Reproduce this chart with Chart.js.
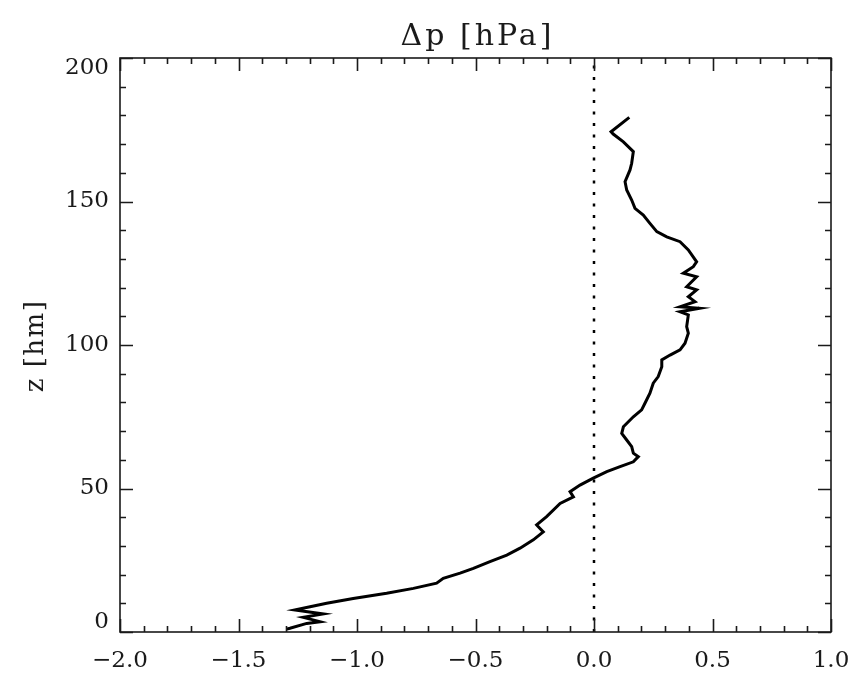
<!DOCTYPE html>
<html>
<head>
<meta charset="utf-8">
<script src="https://cdn.jsdelivr.net/npm/chart.js@4"></script>
<style>
  html, body { margin: 0; padding: 0; background: #fff; }
  #wrap { width: 859px; height: 684px; }
</style>
</head>
<body>
<div id="wrap"><canvas id="profileChart" width="859" height="684"></canvas></div>
<script>
// profile, top of the sounding first
const dp = [0.149, 0.072, 0.081, 0.124, 0.166, 0.159, 0.152, 0.131, 0.138, 0.159,
    0.173, 0.208, 0.236, 0.265, 0.307, 0.363, 0.398, 0.433, 0.419, 0.377,
    0.433, 0.391, 0.433, 0.398, 0.426, 0.363, 0.444, 0.363, 0.398, 0.391,
    0.398, 0.384, 0.363, 0.321, 0.286, 0.286, 0.271, 0.250, 0.236, 0.215,
    0.201, 0.166, 0.124, 0.117, 0.138, 0.159, 0.166, 0.187, 0.166, 0.110,
    0.054, -0.003, -0.059, -0.101, -0.087, -0.143, -0.200, -0.242, -0.214, -0.256,
    -0.312, -0.368, -0.439, -0.509, -0.565, -0.636, -0.664, -0.762, -0.875, -1.016,
    -1.128, -1.198, -1.262, -1.142, -1.227, -1.156, -1.212, -1.283, -1.297];
const z = [179.3, 174.3, 173.5, 170.8, 167.4, 163.3, 161.0, 156.9, 154.0, 150.5,
    147.6, 145.3, 142.4, 139.5, 137.7, 136.0, 133.1, 129.0, 127.3, 125.0,
    123.8, 120.3, 119.2, 116.8, 115.1, 113.3, 112.8, 111.6, 110.5, 106.4,
    104.1, 100.6, 98.3, 96.5, 94.8, 92.4, 89.0, 86.7, 83.2, 79.7,
    77.4, 75.0, 71.5, 69.2, 66.9, 64.6, 62.3, 61.1, 59.3, 57.6,
    55.9, 53.6, 51.2, 48.9, 47.1, 44.8, 40.2, 37.3, 34.9, 32.1,
    29.2, 26.8, 24.5, 22.2, 20.5, 18.7, 17.0, 15.2, 13.5, 11.7,
    10.0, 8.8, 7.7, 6.3, 5.1, 3.6, 3.0, 1.3, 1.0];

const xTicks = [-2.0, -1.5, -1.0, -0.5, 0.0, 0.5, 1.0];
const xTickLabels = ['\u22122.0', '\u22121.5', '\u22121.0', '\u22120.5', '0.0', '0.5', '1.0'];
const yTicks = [0, 50, 100, 150, 200];
const yTickLabels = ['0', '50', '100', '150', '200'];
const xMinorStep = 0.1;
const yMinorStep = 10;

const titleText = '\u0394p [hPa]';
const yTitleText = 'z [hm]';

const FONT = '23px "DejaVu Serif"';
const INK = '#1a1a1a';

// IDL style box: frame, inward ticks on all four sides, labels
const idlAxes = {
    id: 'idlAxes',
    afterDraw(chart) {
        const { ctx, chartArea: a, scales } = chart;
        const xs = scales.x, ys = scales.y;
        ctx.save();
        ctx.strokeStyle = INK;
        ctx.lineWidth = 1.6;
        ctx.strokeRect(a.left, a.top, a.right - a.left, a.bottom - a.top);

        ctx.beginPath();
        // x ticks
        for (let v = xs.min; v <= xs.max + 1e-9; v += xMinorStep) {
            const px = Math.round(xs.getPixelForValue(v)) + 0.5;
            const major = xTicks.some(t => Math.abs(t - v) < 1e-6);
            const len = major ? 13 : 6;
            ctx.moveTo(px, a.bottom); ctx.lineTo(px, a.bottom - len);
            ctx.moveTo(px, a.top); ctx.lineTo(px, a.top + len);
        }
        // y ticks
        for (let v = ys.min; v <= ys.max + 1e-9; v += yMinorStep) {
            const py = Math.round(ys.getPixelForValue(v)) + 0.5;
            const major = yTicks.some(t => Math.abs(t - v) < 1e-6);
            const len = major ? 13 : 6;
            ctx.moveTo(a.left, py); ctx.lineTo(a.left + len, py);
            ctx.moveTo(a.right, py); ctx.lineTo(a.right - len, py);
        }
        ctx.stroke();

        ctx.fillStyle = INK;
        ctx.font = FONT;
        ctx.textAlign = 'center';
        ctx.textBaseline = 'middle';
        xTicks.forEach((t, i) => {
            ctx.fillText(xTickLabels[i], xs.getPixelForValue(t), a.bottom + 29);
        });
        ctx.textAlign = 'right';
        yTicks.forEach((t, i) => {
            let py = ys.getPixelForValue(t);
            py = Math.min(Math.max(py, a.top + 10), a.bottom - 10);
            ctx.fillText(yTickLabels[i], a.left - 11, py);
        });

        // titles slightly wider spaced, like the vector font of the original
        ctx.textAlign = 'center';
        ctx.font = '30px "DejaVu Serif"';
        ctx.letterSpacing = '3px';
        ctx.fillText(titleText, (a.left + a.right) / 2 + 2, a.top - 21);

        ctx.font = '26px "DejaVu Serif"';
        ctx.letterSpacing = '1.5px';
        ctx.translate(36, (a.top + a.bottom) / 2 + 1);
        ctx.rotate(-Math.PI / 2);
        ctx.fillText(yTitleText, 0, 0);
        ctx.restore();
    }
};

new Chart(document.getElementById('profileChart'), {
    type: 'scatter',
    data: {
        datasets: [
            {
                data: dp.map((v, i) => ({ x: v, y: z[i] })),
                showLine: true,
                borderColor: '#000',
                borderWidth: 3,
                pointRadius: 0,
                tension: 0
            },
            {
                data: [{ x: 0, y: 0 }, { x: 0, y: 200 }],
                showLine: true,
                borderColor: '#000',
                borderWidth: 2.5,
                borderDash: [3, 8.5],
                pointRadius: 0
            }
        ]
    },
    options: {
        responsive: false,
        animation: false,
        layout: { padding: { left: 120, top: 58, right: 28, bottom: 52 } },
        plugins: { legend: { display: false }, tooltip: { enabled: false } },
        scales: {
            x: { type: 'linear', min: -2, max: 1, display: false },
            y: { type: 'linear', min: 0, max: 200, display: false }
        }
    },
    plugins: [idlAxes]
});
</script>
</body>
</html>
